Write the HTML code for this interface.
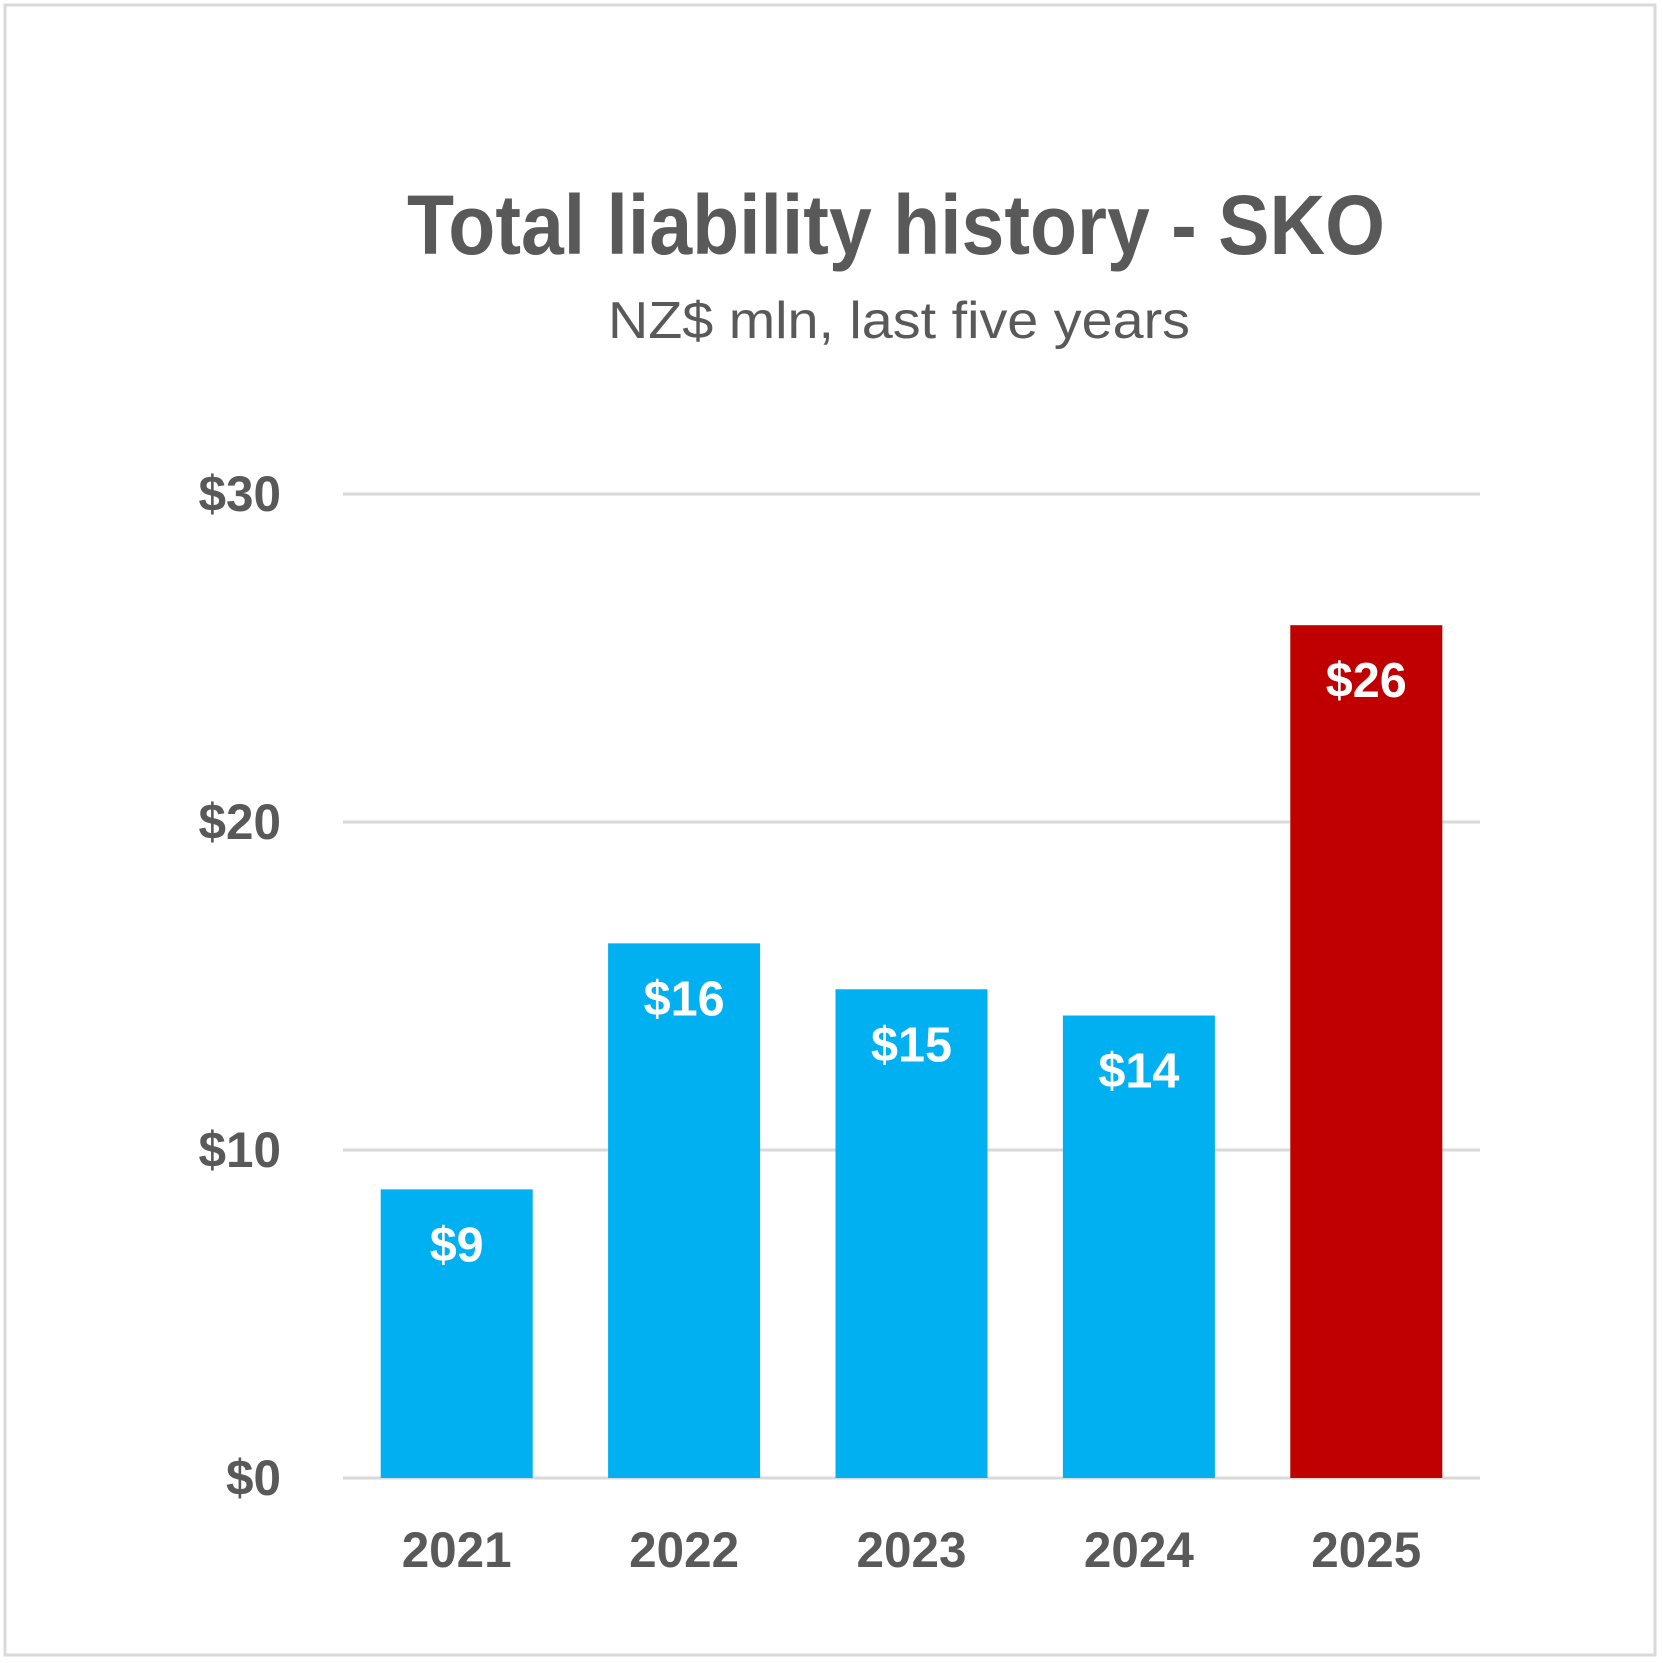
<!DOCTYPE html>
<html><head><meta charset="utf-8"><style>
html,body{margin:0;padding:0;background:#fff}
svg{display:block;font-family:"Liberation Sans",sans-serif}
</style></head><body>
<svg id="chart" width="1663" height="1663" viewBox="0 0 1663 1663" xmlns="http://www.w3.org/2000/svg">
<rect x="5" y="5" width="1650" height="1650" fill="#fff" stroke="#d9d9d9" stroke-width="3"/>
<text x="896" y="254" text-anchor="middle" font-size="84" font-weight="bold" fill="#595959" textLength="978" lengthAdjust="spacingAndGlyphs">Total liability history - SKO</text>
<text x="899" y="338" text-anchor="middle" font-size="52" fill="#595959" textLength="582" lengthAdjust="spacingAndGlyphs">NZ$ mln, last five years</text>
<g id="grid"></g><g id="bars"></g><g id="labels"></g>
</svg>
<script>
const categories=["2021","2022","2023","2024","2025"];
const values=[8.8,16.3,14.9,14.1,26];
const valueLabels=["$9","$16","$15","$14","$26"];
const barColors=["#00b0f0","#00b0f0","#00b0f0","#00b0f0","#c00000"];
const ticks=[0,10,20,30];
const tickLabels=["$0","$10","$20","$30"];
const NS="http://www.w3.org/2000/svg";
const X0=343,X1=1480,Y0=1478,Y1=494,MAX=30;
const y=v=>Y0-(v/MAX)*(Y0-Y1);
const band=(X1-X0)/categories.length;
const x=i=>X0+band*i+band/2;
const bw=152;
function mk(tag,parent,attrs){const e=document.createElementNS(NS,tag);for(const k in attrs)e.setAttribute(k,attrs[k]);parent.appendChild(e);return e;}
const grid=document.getElementById('grid'),bars=document.getElementById('bars'),labels=document.getElementById('labels');
categories.forEach((c,i)=>{
 const r=mk('rect',bars,{x:x(i)-bw/2,y:y(values[i]),width:bw,height:Y0-y(values[i]),fill:barColors[i]});
 
 
 const v=mk('text',labels,{x:x(i),y:y(values[i])+72,'text-anchor':'middle','font-size':49,'font-weight':'bold',fill:'#fff',textLength:valueLabels[i].length*27,lengthAdjust:'spacingAndGlyphs'});
 v.textContent=valueLabels[i];
 
 
 const xl=mk('text',labels,{x:x(i),y:1567,'text-anchor':'middle','font-size':50,'font-weight':'bold',fill:'#595959',textLength:110,lengthAdjust:'spacingAndGlyphs'});
 xl.textContent=c;
 
 
});
ticks.forEach((t,i)=>{
 const l=mk('line',grid,{x1:X0,x2:X1,y1:y(t),y2:y(t),stroke:'#d9d9d9','stroke-width':3});
 
 
 const tx=mk('text',labels,{x:281,y:y(t)+17,'text-anchor':'end','font-size':50,'font-weight':'bold',fill:'#595959',textLength:tickLabels[i].length*27.5,lengthAdjust:'spacingAndGlyphs'});
 tx.textContent=tickLabels[i];
 
 
});
</script>
</body></html>
